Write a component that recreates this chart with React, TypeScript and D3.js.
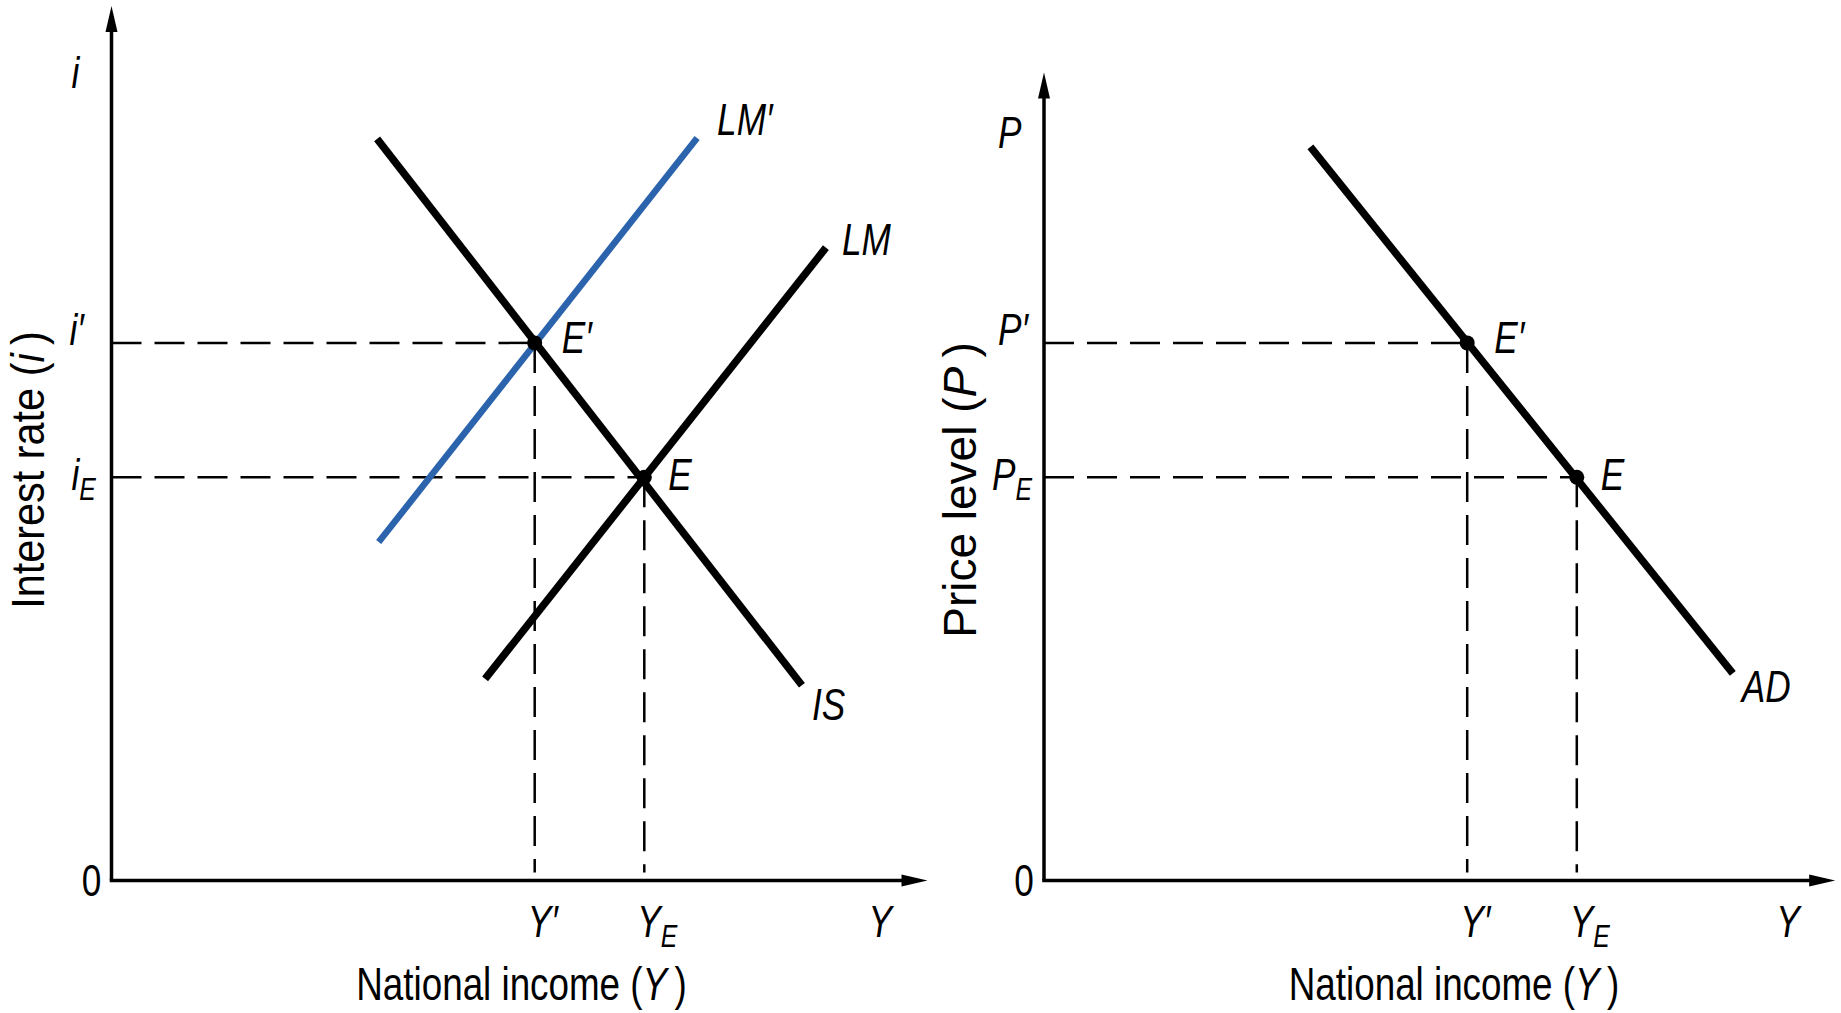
import React from "react";
import * as d3 from "d3";

// Curve endpoints in model units (0–100 on each axis)
const isCurve: [number, number][] = [[33.2, 92.7], [86.3, 24.4]];
const lmCurve: [number, number][] = [[46.7, 25.2], [89.3, 79.1]];
const lmShiftedCurve: [number, number][] = [[33.4, 42.3], [73.2, 92.8]];
const adCurve: [number, number][] = [[33.3, 91.7], [86.1, 25.9]];

// Equilibria: [income, rate/price]
const incomeLevels = [52.9, 66.6]; // Y', Y_E
const interestLevels = [67.2, 50.4]; // i', i_E
const priceLevels = [67.2, 50.4]; // P', P_E

const incomeTickLabels = [["Y", "′"], ["Y", "E"]];
const interestTickLabels = [["i", "′"], ["i", "E"]];
const priceTickLabels = [["P", "′"], ["P", "E"]];
const pointLabels = ["E′", "E"];

const W = 1841;
const H = 1013;
const FONT = "'Liberation Sans', Arial, sans-serif";
const CONDENSE = 0.8;
const BLUE = "#2b63ad";

const line = d3.line<[number, number]>();

type TProps = {
  x: number;
  y: number;
  size?: number;
  italic?: boolean;
  anchor?: "start" | "middle" | "end";
  rotate?: number;
  squeeze?: number;
  children: React.ReactNode;
};

// Condensed text: glyphs are squeezed along the reading direction
function T({ x, y, size = 44, italic = false, anchor = "start", rotate = 0, squeeze = CONDENSE, children }: TProps) {
  return (
    <text
      transform={`translate(${x},${y}) rotate(${rotate}) scale(${squeeze},1)`}
      textAnchor={anchor}
      fontFamily={FONT}
      fontStyle={italic ? "italic" : "normal"}
      fontSize={size}
    >
      {children}
    </text>
  );
}

type PanelProps = {
  originX: number;
  yTop: number;
  xEnd: number;
  yLetter: string;
  yTitle: string;
  yTitleCenter: number;
  yTitleSqueeze: number;
  levelLabels: string[][];
  levels: number[];
  children: (x: d3.ScaleLinear<number, number>, y: d3.ScaleLinear<number, number>) => React.ReactNode;
};

function Panel({ originX, yTop, xEnd, yLetter, yTitle, yTitleCenter, yTitleSqueeze, levelLabels, levels, children }: PanelProps) {
  const x = d3.scaleLinear().domain([0, 100]).range([originX, originX + 800]);
  const y = d3.scaleLinear().domain([0, 100]).range([880.5, 80.5]);
  const x0 = x(0);
  const y0 = y(0);
  const top = y(yTop);
  const right = x(xEnd);
  const isI = yLetter === "i";

  return (
    <g>
      {/* axes */}
      <line x1={x0} y1={y0} x2={x0} y2={top + 20} stroke="#000" strokeWidth={3.5} />
      <path d={`M${x0},${top} L${x0 - 6},${top + 26} L${x0 + 6},${top + 26} Z`} fill="#000" />
      <line x1={x0 - 1.75} y1={y0} x2={right - 20} y2={y0} stroke="#000" strokeWidth={3.5} />
      <path d={`M${right},${y0} L${right - 26},${y0 - 6} L${right - 26},${y0 + 6} Z`} fill="#000" />

      {/* guide lines to the equilibria */}
      {levels.map((lv, k) => (
        <g key={k} stroke="#000" strokeWidth={2.5} strokeDasharray="30 13" fill="none">
          <line x1={x0} y1={y(lv)} x2={x(incomeLevels[k])} y2={y(lv)} />
          <line x1={x(incomeLevels[k])} y1={y(lv)} x2={x(incomeLevels[k])} y2={y0 - 8} />
        </g>
      ))}

      {children(x, y)}

      {/* equilibrium points */}
      {levels.map((lv, k) => (
        <g key={k}>
          <circle cx={x(incomeLevels[k])} cy={y(lv)} r={7.5} fill="#000" />
          <T x={x(incomeLevels[k]) + (k === 0 ? 27 : 24)} y={y(lv) + (k === 0 ? 10 : 13)} italic>
            {pointLabels[k]}
          </T>
        </g>
      ))}

      {/* vertical-axis labels */}
      <T x={x0 - (isI ? 40 : 46)} y={top + (isI ? 82 : 75)} italic>{yLetter}</T>
      {levels.map((lv, k) =>
        k === 0 ? (
          <T key={k} x={x0 - (isI ? 42 : 46)} y={y(lv) + 2} italic>
            {levelLabels[k][0] + levelLabels[k][1]}
          </T>
        ) : (
          <T key={k} x={x0 - (isI ? 40 : 52)} y={y(lv) + 13} italic>
            {levelLabels[k][0]}
            <tspan dy={10} fontSize={31}>{levelLabels[k][1]}</tspan>
          </T>
        )
      )}
      <T x={x0 - 20} y={y0 + 15} anchor="middle">0</T>

      {/* horizontal-axis labels */}
      {incomeLevels.map((v, k) =>
        k === 0 ? (
          <T key={k} x={x(v) - 7} y={937} italic>
            {incomeTickLabels[k][0] + incomeTickLabels[k][1]}
          </T>
        ) : (
          <T key={k} x={x(v) - 7} y={937} italic>
            {incomeTickLabels[k][0]}
            <tspan dy={10} fontSize={31}>{incomeTickLabels[k][1]}</tspan>
          </T>
        )
      )}
      <T x={right - 59} y={937} italic>Y</T>

      {/* axis titles */}
      <T x={x0 + 410} y={1000} anchor="middle" size={46}>
        National income (<tspan fontStyle="italic">Y</tspan>{"\u2009)"}
      </T>
      <T x={x0 - 68} y={yTitleCenter} anchor="middle" size={46} rotate={-90} squeeze={yTitleSqueeze}>
        {yTitle} (<tspan fontStyle="italic">{yLetter}</tspan>{"\u2009)"}
      </T>
    </g>
  );
}

export default function App() {
  return (
    <svg width={W} height={H} viewBox={`0 0 ${W} ${H}`}
      style={{ position: "absolute", left: 0, top: 0, background: "#fff" }}>
      <rect width={W} height={H} fill="#fff" />
      <Panel originX={111.5} yTop={109.3} xEnd={102} yLetter="i" yTitle="Interest rate"
        yTitleCenter={470} yTitleSqueeze={0.9} levelLabels={interestTickLabels} levels={interestLevels}>
        {(x, y) => {
          const px = (c: [number, number][]) => c.map(([a, b]) => [x(a), y(b)] as [number, number]);
          const lmS = px(lmShiftedCurve);
          const lm = px(lmCurve);
          const is = px(isCurve);
          return (
            <g>
              <path d={line(lmS) ?? ""} stroke={BLUE} strokeWidth={6.5} fill="none" />
              <path d={line(lm) ?? ""} stroke="#000" strokeWidth={7.5} fill="none" />
              <path d={line(is) ?? ""} stroke="#000" strokeWidth={7.5} fill="none" />
              <T x={lmS[1][0] + 20} y={lmS[1][1] - 3} italic>LM′</T>
              <T x={lm[1][0] + 16} y={lm[1][1] + 7} italic>LM</T>
              <T x={is[1][0] + 10} y={is[1][1] + 35} italic>IS</T>
            </g>
          );
        }}
      </Panel>
      <Panel originX={1044} yTop={101} xEnd={98.9} yLetter="P" yTitle="Price level"
        yTitleCenter={490} yTitleSqueeze={1.0} levelLabels={priceTickLabels} levels={priceLevels}>
        {(x, y) => {
          const ad = adCurve.map(([a, b]) => [x(a), y(b)] as [number, number]);
          return (
            <g>
              <path d={line(ad) ?? ""} stroke="#000" strokeWidth={7.5} fill="none" />
              <T x={ad[1][0] + 9} y={ad[1][1] + 29} italic>AD</T>
            </g>
          );
        }}
      </Panel>
    </svg>
  );
}
